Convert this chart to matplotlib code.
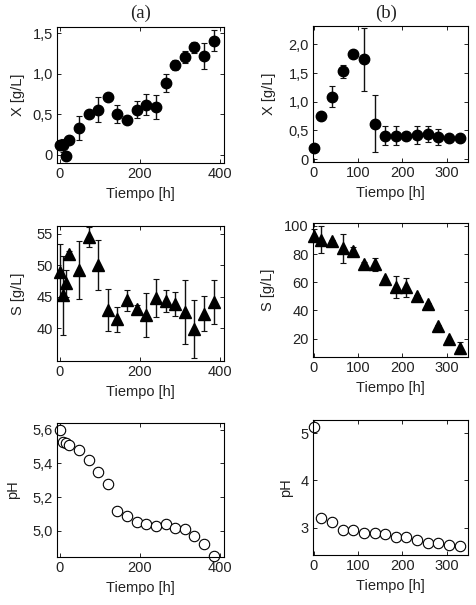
import matplotlib
matplotlib.use('Agg')
import matplotlib.pyplot as plt
from matplotlib.ticker import FuncFormatter

plt.rcParams['font.family'] = ['Liberation Sans', 'DejaVu Sans']

# --- data ---
t_a = [0, 8, 16, 24, 48, 72, 96, 120, 144, 168, 192, 216, 240, 264, 288, 312, 336, 360, 384]
X_a = [0.12, 0.12, -0.01, 0.19, 0.33, 0.50, 0.56, 0.71, 0.51, 0.43, 0.56, 0.62, 0.59, 0.89, 1.11, 1.21, 1.33, 1.22, 1.41]
X_a_err = [0.06, 0.08, 0.05, 0.04, 0.15, 0.02, 0.15, 0.03, 0.11, 0.03, 0.11, 0.13, 0.15, 0.11, 0.06, 0.07, 0.07, 0.16, 0.13]
S_a = [48.9, 45.2, 47.1, 51.7, 49.2, 54.5, 50.0, 42.9, 41.4, 44.4, 43.0, 42.1, 44.8, 44.3, 43.8, 42.6, 39.8, 42.3, 44.1]
S_a_err = [4.5, 6.2, 2.1, 0.5, 4.6, 1.6, 4.0, 3.3, 2.0, 1.6, 0.7, 3.5, 3.0, 1.8, 1.9, 5.1, 4.6, 2.8, 3.5]
pH_a = [5.60, 5.53, 5.52, 5.51, 5.48, 5.42, 5.35, 5.28, 5.12, 5.09, 5.05, 5.04, 5.03, 5.04, 5.02, 5.01, 4.97, 4.92, 4.85]

t_b = [0, 17, 41, 65, 89, 113, 137, 161, 185, 209, 233, 257, 281, 305, 329]
X_b = [0.20, 0.75, 1.09, 1.53, 1.84, 1.74, 0.62, 0.41, 0.41, 0.41, 0.42, 0.44, 0.39, 0.36, 0.36]
X_b_err = [0.05, 0.04, 0.18, 0.11, 0.04, 0.55, 0.50, 0.16, 0.17, 0.07, 0.16, 0.14, 0.14, 0.03, 0.03]
S_b = [92.9, 90.1, 88.9, 84.1, 81.8, 73.0, 72.8, 62.1, 56.4, 56.4, 50.3, 44.4, 29.0, 19.5, 13.1]
S_b_err = [4.5, 9.5, 1.0, 10.4, 3.2, 1.0, 4.7, 0.5, 7.7, 6.6, 1.0, 1.0, 0.5, 0.5, 4.2]
pH_b = [5.14, 3.21, 3.11, 2.95, 2.95, 2.89, 2.88, 2.86, 2.81, 2.81, 2.74, 2.67, 2.67, 2.64, 2.61]

xlabel = 'Tiempo [h]'
txt = '#222222'

fig = plt.figure(figsize=(4.76, 6.05), dpi=100)
W, H = 476.0, 605.0


def comma(v, pos):
    if abs(v) < 1e-9:
        return '0'
    return ('%.1f' % v).replace('.', ',')


def plain(v, pos):
    return '%d' % round(v)


def axes_px(l, t, r, b):
    return fig.add_axes([l / W, 1 - b / H, (r - l) / W, (b - t) / H])


def style(ax, box, xlim, xticks, ylim, yticks, fmt, ylab, ylab_x):
    l, t, r, b = box
    ax.set_xlim(*xlim)
    ax.set_xticks(xticks)
    ax.set_ylim(*ylim)
    ax.set_yticks(yticks)
    ax.yaxis.set_major_formatter(FuncFormatter(fmt))
    ax.tick_params(direction='in', top=True, right=True, length=3, width=0.6,
                   labelsize=10.5, labelcolor=txt, pad=3)
    for s in ax.spines.values():
        s.set_linewidth(0.8)
    ax.set_xlabel(xlabel, fontsize=10.5, color=txt, va='center')
    ax.xaxis.set_label_coords(0.5, -31.0 / (b - t))
    ax.set_ylabel(ylab, fontsize=10.5, color=txt, va='center')
    ax.yaxis.set_label_coords((ylab_x - l) / (r - l), 0.5)


box_Xa = (57, 27, 224, 163)
box_Sa = (57, 226, 224, 361)
box_Pa = (57, 423, 224, 557)
box_Xb = (313, 26, 468, 162)
box_Sb = (313, 223, 468, 357)
box_Pb = (313, 420, 468, 555)

axXa = axes_px(*box_Xa)
axSa = axes_px(*box_Sa)
axPa = axes_px(*box_Pa)
axXb = axes_px(*box_Xb)
axSb = axes_px(*box_Sb)
axPb = axes_px(*box_Pb)

eb = dict(fmt='none', ecolor='#111111', elinewidth=1.0, capsize=2, capthick=0.8, zorder=2)

# panel (a)
axXa.errorbar(t_a, X_a, yerr=X_a_err, **eb)
axXa.plot(t_a, X_a, 'o', color='black', markersize=7.5, zorder=3)
style(axXa, box_Xa, (-7, 410), [0, 200, 400], (-0.1, 1.58), [0, 0.5, 1.0, 1.5], comma, 'X [g/L]', 18)

axSa.errorbar(t_a, S_a, yerr=S_a_err, **eb)
axSa.plot(t_a, S_a, '^', color='black', markersize=8, zorder=3)
style(axSa, box_Sa, (-7, 410), [0, 200, 400], (34.8, 56.2), [40, 45, 50, 55], plain, 'S [g/L]', 18)

axPa.plot(t_a, pH_a, 'o', mfc='white', mec='black', mew=0.8, markersize=7.5)
style(axPa, box_Pa, (-7, 410), [0, 200, 400], (4.845, 5.64), [5.0, 5.2, 5.4, 5.6], comma, 'pH', 13)

# panel (b)
axXb.errorbar(t_b, X_b, yerr=X_b_err, **eb)
axXb.plot(t_b, X_b, 'o', color='black', markersize=7.5, zorder=3)
style(axXb, box_Xb, (-2, 348), [0, 100, 200, 300], (-0.05, 2.32), [0, 0.5, 1.0, 1.5, 2.0], comma, 'X [g/L]', 269)

axSb.errorbar(t_b, S_b, yerr=S_b_err, **eb)
axSb.plot(t_b, S_b, '^', color='black', markersize=8, zorder=3)
style(axSb, box_Sb, (-2, 348), [0, 100, 200, 300], (7, 102), [20, 40, 60, 80, 100], plain, 'S [g/L]', 268)

axPb.plot(t_b, pH_b, 'o', mfc='white', mec='black', mew=0.8, markersize=7.5)
style(axPb, box_Pb, (-2, 348), [0, 100, 200, 300], (2.42, 5.28), [3, 4, 5], plain, 'pH', 286)

for ax in (axPa, axPb, axXa, axXb, axSa, axSb):
    for m in ax.lines:
        m.set_clip_on(False)

fig.text(141 / W, 1 - 13 / H, '(a)', family=['Liberation Serif', 'DejaVu Serif'],
         fontsize=13.5, color=txt, ha='center', va='center')
fig.text(386 / W, 1 - 13 / H, '(b)', family=['Liberation Serif', 'DejaVu Serif'],
         fontsize=13.5, color=txt, ha='center', va='center')

fig.savefig('out.png', dpi=100, facecolor='white')
